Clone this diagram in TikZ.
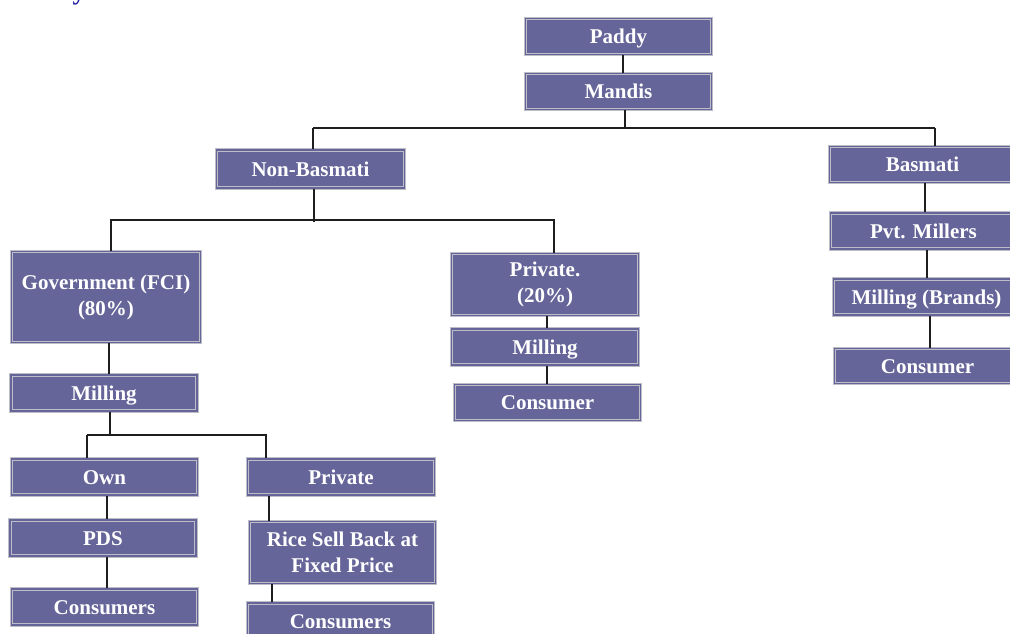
\documentclass[tikz,border=0pt]{standalone}
\usepackage{fontspec}
\setmainfont{Liberation Serif}
\definecolor{boxfill}{HTML}{656599}
\definecolor{boxedge}{HTML}{BDBDC8}
\definecolor{linecol}{HTML}{1E1E1E}
\definecolor{titleblue}{HTML}{1C1C9C}
\tikzset{
  box/.style={draw=boxedge, line width=1.1pt, double=boxfill, double distance=1.5pt,
    fill=boxfill, text=white, font=\bfseries\fontsize{21}{26}\selectfont,
    minimum width=186pt, inner sep=0pt, align=center},
  onebox/.style={box, minimum height=36pt, text height=14pt, text depth=0pt},
  twobox/.style={box, minimum height=62pt},
  conn/.style={draw=linecol, line width=1.1pt}
}
\begin{document}
\begin{tikzpicture}[x=1pt,y=-1pt]
\useasboundingbox (0,0) rectangle (1010,633);
\fill[white] (0,0) rectangle (1010,633);
% cut-off title fragment
\node[anchor=base, text=titleblue, font=\bfseries\fontsize{26}{30}\selectfont, inner sep=0pt] (title) at (79,-0.5) {y};

% nodes
\node[onebox] (paddy) at (618.5,36.5) {Paddy};
\node[onebox] (mandis) at (618.5,91.5) {Mandis};
\node[onebox, minimum width=188pt, minimum height=38pt] (nonbasmati) at (310.5,169) {Non-Basmati};
\node[onebox] (basmati) at (922.5,164.5) {Basmati};
\node[onebox] (pvtmillers) at (923.5,231) {Pvt. Millers};
\node[onebox] (millbrands) at (926.5,297) {Milling (Brands)};
\node[onebox, minimum height=35pt] (consb) at (927.5,366) {Consumer};

\node[box, minimum width=189pt, minimum height=91pt] (gov) at (106,297) {Government (FCI)\\(80\%)};
\node[onebox] (millg) at (104,393) {Milling};
\node[onebox] (own) at (104.5,477) {Own};
\node[onebox] (pds) at (103,538) {PDS};
\node[onebox] (consl) at (104.5,607) {Consumers};
\node[onebox, minimum width=187pt] (privg) at (341,477) {Private};
\node[twobox] (rice) at (342.5,552.5) {Rice Sell Back at\\Fixed Price};
\node[onebox] (consr) at (340.5,621) {Consumers};

\node[twobox, minimum width=187pt] (priv20) at (545,284.5) {Private.\\(20\%)};
\node[onebox, minimum width=187pt] (millp) at (545,347) {Milling};
\node[onebox, minimum height=36pt] (consp) at (547.5,402.5) {Consumer};

% top tree
\coordinate (busA) at (313,128);
\coordinate (busB) at (935,128);
\draw[conn] ([xshift=4.5pt]paddy.south) -- ([xshift=4.5pt]mandis.north);
\draw[conn] ([xshift=6.5pt]mandis.south) -- ([xshift=6.5pt]mandis.south |- busA);
\draw[conn] (busA) -- (busB);
\draw[conn] (busA) -- (busA |- nonbasmati.north);
\draw[conn] (busB) -- (busB |- basmati.north);

% basmati chain
\draw[conn] (basmati.south -| 925,0) -- (pvtmillers.north -| 925,0);
\draw[conn] (pvtmillers.south -| 927,0) -- (millbrands.north -| 927,0);
\draw[conn] (millbrands.south -| 930,0) -- (consb.north -| 930,0);

% non-basmati tree
\coordinate (busC) at (110,220);
\coordinate (busD) at (555,220);
\draw[conn] ([xshift=3.5pt]nonbasmati.south) -- ([xshift=3.5pt,yshift=-2pt]nonbasmati.south |- busC);
\draw[conn] (busC) -- (busD);
\draw[conn] (busC -| 111,0) -- (gov.north -| 111,0);
\draw[conn] (busD -| 554,0) -- (priv20.north -| 554,0);

% private 20%
\draw[conn] (priv20.south -| 547,0) -- (millp.north -| 547,0);
\draw[conn] (millp.south -| 547,0) -- (consp.north -| 547,0);

% government branch
\draw[conn] ([xshift=3pt]gov.south) -- ([xshift=5pt]millg.north);
\coordinate (busE) at (87,435);
\coordinate (busF) at (267,435);
\draw[conn] ([xshift=6pt]millg.south) -- ([xshift=6pt]millg.south |- busE);
\draw[conn] (busE) -- (busF);
\draw[conn] (busE) -- (busE |- own.north);
\draw[conn] (busF -| 266,0) -- (privg.north -| 266,0);
\draw[conn] (own.south -| 107,0) -- (pds.north -| 107,0);
\draw[conn] (pds.south -| 107,0) -- (consl.north -| 107,0);
\draw[conn] (privg.south -| 269,0) -- (rice.north -| 269,0);
\draw[conn] (rice.south -| 272,0) -- (consr.north -| 272,0);
\end{tikzpicture}
\end{document}
